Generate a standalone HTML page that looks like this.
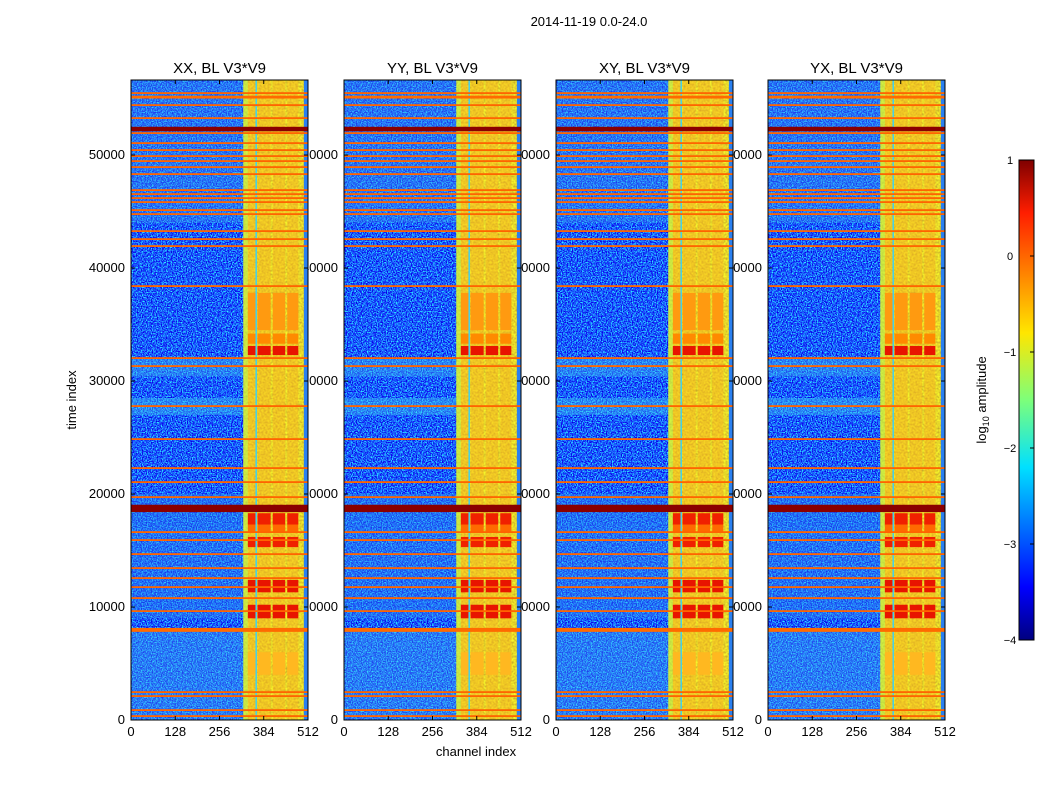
<!DOCTYPE html>
<html><head><meta charset="utf-8"><style>
body{margin:0;background:#fff;}
svg text{font-family:"Liberation Sans",sans-serif;}
</style></head><body>
<svg id="fig" width="1050" height="800" xmlns="http://www.w3.org/2000/svg">
<defs>
<filter id="noise" x="0" y="0" width="100%" height="100%" color-interpolation-filters="sRGB">
<feTurbulence type="fractalNoise" baseFrequency="0.8" numOctaves="2" seed="3" result="t"/>
<feColorMatrix in="t" type="matrix" values="0.3 0 0 0 -0.05  2.6 0 0 0 -0.95  0.5 0 0 0 0.75  0 0 0 0 1" result="c"/>
<feComposite in="c" in2="SourceGraphic" operator="in"/>
</filter>
<filter id="noise2" x="0" y="0" width="100%" height="100%" color-interpolation-filters="sRGB">
<feTurbulence type="fractalNoise" baseFrequency="0.5" numOctaves="2" seed="7" result="t"/>
<feColorMatrix in="t" type="matrix" values="0.6 0 0 0 0.6  0.9 0 0 0 0.35  0 0 0 0 0.1  0 0 0 0 1" result="c"/>
<feComposite in="c" in2="SourceGraphic" operator="in"/>
</filter>
<linearGradient id="jet" x1="0" y1="1" x2="0" y2="0">
<stop offset="0" stop-color="#00007f"/><stop offset="0.11" stop-color="#0000ff"/><stop offset="0.36" stop-color="#00e0ff"/><stop offset="0.5" stop-color="#7dff7a"/><stop offset="0.64" stop-color="#ffe600"/><stop offset="0.89" stop-color="#ff1e00"/><stop offset="1" stop-color="#7f0000"/>
</linearGradient>
</defs>
<text x="589" y="26" font-size="13" text-anchor="middle">2014-11-19 0.0-24.0</text>
<g id="labels"></g>
<g id="panels"></g>
<text transform="translate(76,400) rotate(-90)" font-size="13" text-anchor="middle">time index</text>
<text x="476" y="756" font-size="13" text-anchor="middle">channel index</text>
<g>
<rect x="1019" y="160" width="15" height="480" fill="url(#jet)" stroke="#000" stroke-width="1"/>
<g id="cbticks"></g>
<text transform="translate(986,400) rotate(-90)" font-size="13" text-anchor="middle">log<tspan font-size="9" dy="3">10</tspan><tspan dy="-3"> amplitude</tspan></text>
</g>
</svg>
<script>
const titles=["XX, BL V3*V9","YY, BL V3*V9","XY, BL V3*V9","YX, BL V3*V9"];
const panelLeft=[131,344,556,768];
const yTicks=[0,10000,20000,30000,40000,50000];
const xTicks=[0,128,256,384,512];
const cbTicks=[1,0,-1,-2,-3,-4];
const rfiLines=[55490,55135,54427,53276,51950,51064,50445,49914,49472,48940,48320,46905,46550,46197,45843,45135,44780,43276,42568,41950,38409,32037,31329,27789,24869,22302,21063,19735,16638,15930,14691,13452,12567,11770,10797,9646,2478,2124,885,354];
const bandStart=[52100,18400,7800,55000];
const bandEnd=[52500,19050,8150,55250];
const bandColor=["#8a0000","#8a0000","#ff6a00","#ff6a00"];
const lightStart=[0,27000,30400,44000,9000];
const lightEnd=[8000,28500,32000,56640,20000];
const lightColor=["#40b0f0","#40d0f0","#40c0f0","#3a9cf0","#3090f0"];
const colStart=[325,500];
const colEnd=[500,512];
const colColor=["#e8ec40","#2a80f0"];
const hotStart=[32300,33300,34500,9000,11300,15300,16600,17300,4000];
const hotEnd=[33100,34200,37800,10200,12400,16200,17400,18300,6000];
const hotColor=["#e81400","#ff8a00","#ff9a10","#e81400","#e81400","#f02000","#ff6a00","#f02000","#ffb820"];
const subStart=[338,366,410,452];
const subEnd=[360,404,446,484];
const T0=0,T1=56640,Y0=720,Y1=80,W=177;
function ty(t){return Y0-(t-T0)/(T1-T0)*(Y0-Y1);}
const ns="http://www.w3.org/2000/svg";
const root=document.getElementById('panels');
const labelLayer=document.getElementById('labels');
function mk(tag,attrs,parent){const e=document.createElementNS(ns,tag);for(const k in attrs)e.setAttribute(k,attrs[k]);parent.appendChild(e);return e;}
panelLeft.forEach((L,p)=>{
  function cx(c){return L+c/512*W;}
  const g=mk('g',{},root);
  
  
  const bg=mk('rect',{x:L,y:Y1,width:W,height:Y0-Y1,fill:'#000',filter:'url(#noise)'},g);
  
  
  lightStart.forEach((s,i)=>{
    const r=mk('rect',{x:L,y:ty(lightEnd[i]),width:cx(325)-L,height:ty(s)-ty(lightEnd[i]),fill:lightColor[i],opacity:0.4},g);
    
    
  });
  colStart.forEach((s,i)=>{
    const r=mk('rect',{x:cx(s),y:Y1,width:cx(colEnd[i])-cx(s),height:Y0-Y1,fill:colColor[i]},g);
    
    
  });
  mk('rect',{x:cx(325),y:Y1,width:cx(500)-cx(325),height:Y0-Y1,fill:'#000',filter:'url(#noise2)',opacity:0.6},g);
  subStart.forEach((s,i)=>{
    const r=mk('rect',{x:cx(s),y:Y1,width:cx(subEnd[i])-cx(s),height:Y0-Y1,fill:'#f8b020',opacity:0.45},g);
    
    
  });
  mk('rect',{x:cx(360),y:Y1,width:1.5,height:Y0-Y1,fill:'#40d0f0'},g);
  mk('rect',{x:cx(325),y:Y1,width:cx(338)-cx(325),height:Y0-Y1,fill:'#b8f050',opacity:0.6},g);
  hotStart.forEach((s,i)=>{
    subStart.forEach((c,j)=>{
      const r=mk('rect',{x:cx(c),y:ty(hotEnd[i]),width:cx(subEnd[j])-cx(c),height:ty(s)-ty(hotEnd[i]),fill:hotColor[i]},g);
      
      
    });
  });
  rfiLines.forEach(t=>{
    const r=mk('rect',{x:L,y:ty(t)-0.8,width:W,height:1.8,fill:'#ff6400'},g);
    
    
  });
  bandStart.forEach((s,i)=>{
    const r=mk('rect',{x:L,y:ty(bandEnd[i]),width:W,height:ty(s)-ty(bandEnd[i]),fill:bandColor[i]},g);
    
    
  });
  mk('rect',{x:L,y:Y1,width:W,height:Y0-Y1,fill:'none',stroke:'#000','stroke-width':1},g);
  const tt=mk('text',{x:L+W/2,y:73,'font-size':15,'text-anchor':'middle'},g);
  tt.textContent=titles[p];
  
  
  yTicks.forEach(v=>{
    const y=ty(v);
    mk('line',{x1:L,x2:L+4,y1:y,y2:y,stroke:'#000'},g);
    mk('line',{x1:L+W-4,x2:L+W,y1:y,y2:y,stroke:'#000'},g);
    const t=mk('text',{x:L-6,y:y+4,'font-size':13,'text-anchor':'end'},labelLayer);
    t.textContent=v;
    
    
  });
  xTicks.forEach(v=>{
    const x=cx(v);
    mk('line',{x1:x,x2:x,y1:Y0,y2:Y0-4,stroke:'#000'},g);
    mk('line',{x1:x,x2:x,y1:Y1,y2:Y1+4,stroke:'#000'},g);
    const t=mk('text',{x:x,y:736,'font-size':13,'text-anchor':'middle'},labelLayer);
    t.textContent=v;
    
    
  });
});
const cb=document.getElementById('cbticks');
cbTicks.forEach(v=>{
  const y=160+(1-v)/5*480;
  mk('line',{x1:1030,x2:1034,y1:y,y2:y,stroke:'#000'},cb);
  const t=mk('text',{x:1010,y:y+4,'font-size':11,'text-anchor':'middle'},cb);
  t.textContent=v<0?'\u2212'+(-v):v;
  
  
});
</script>
</body></html>
